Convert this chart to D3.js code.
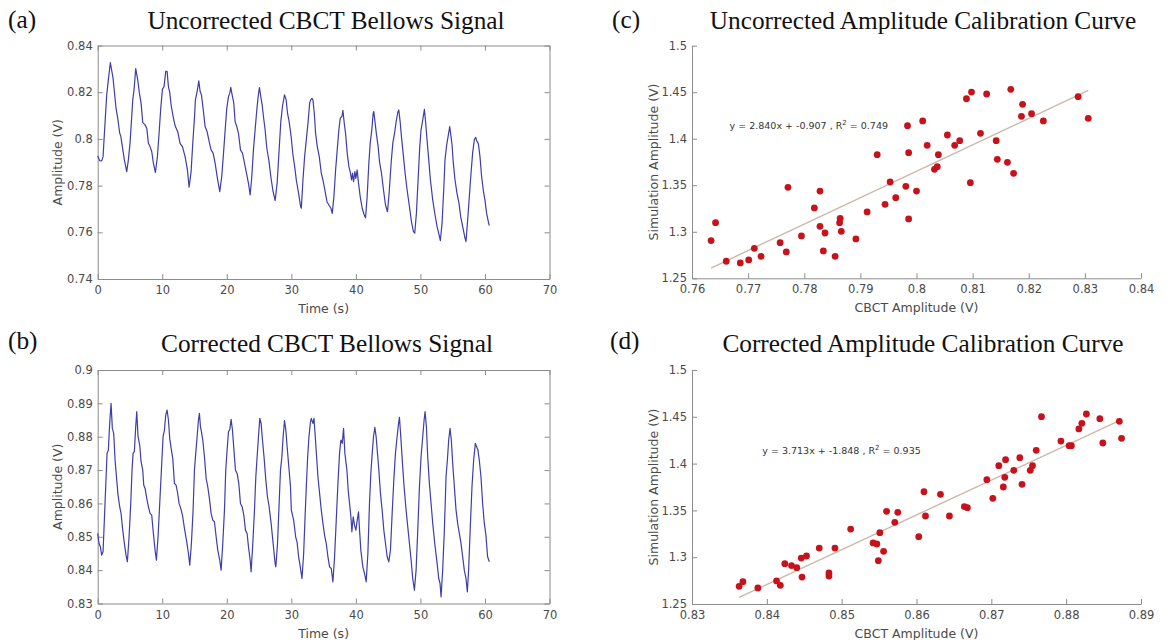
<!DOCTYPE html>
<html><head><meta charset="utf-8">
<script src="https://cdn.jsdelivr.net/npm/d3@7"></script>
<style>body{margin:0;background:#fff}svg{display:block}</style>
</head><body>
<svg id="chart" width="1167" height="640"></svg>
<script>
// ---------- DATA ----------
const timeA = [0,0.31,0.62,0.83,0.98,1.24,1.40,1.65,1.96,2.17,2.38,2.58,2.84,3.10,3.41,3.57,3.82,4.13,4.50,4.75,5.01,5.27,5.43,5.63,5.89,6.20,6.46,6.72,6.98,7.34,7.60,7.86,8.11,8.37,8.63,8.94,9.25,9.51,9.77,10.03,10.28,10.54,10.75,10.96,11.16,11.37,11.68,11.99,12.40,12.76,13.13,13.54,13.90,14.16,14.47,14.73,14.99,15.14,15.45,15.66,15.87,16.07,16.33,16.64,16.95,17.26,17.57,17.88,18.19,18.55,18.91,19.22,19.53,19.79,20.00,20.26,20.47,20.62,20.83,21.09,21.29,21.55,21.81,22.12,22.43,22.74,23.05,23.36,23.62,23.88,24.13,24.39,24.65,24.86,25.06,25.27,25.48,25.68,25.94,26.20,26.51,26.82,27.13,27.49,27.80,28.11,28.37,28.63,28.94,29.20,29.41,29.66,29.97,30.26,30.52,30.77,31.13,31.44,31.55,31.80,32.06,32.32,32.58,32.84,33.00,33.20,33.35,33.56,33.76,34.02,34.33,34.64,34.90,35.20,35.52,35.82,36.13,36.34,36.60,36.86,37.11,37.37,37.58,37.84,37.99,38.20,38.40,38.66,38.92,39.12,39.33,39.48,39.64,39.85,40.00,40.20,40.41,40.67,40.98,41.29,41.50,41.75,42.01,42.22,42.47,42.68,42.78,42.99,43.20,43.45,43.66,43.97,44.28,44.59,44.90,45.15,45.46,45.72,46.03,46.24,46.49,46.65,46.86,47.06,47.32,47.63,47.94,48.30,48.61,48.92,49.12,49.38,49.64,49.90,50.10,50.36,50.62,50.82,51.03,51.29,51.55,51.91,52.27,52.58,52.89,53.09,53.35,53.61,53.81,54.07,54.33,54.54,54.74,54.90,55.10,55.36,55.67,55.98,56.24,56.55,56.86,57.06,57.32,57.58,57.84,58.09,58.35,58.56,58.76,58.97,59.23,59.48,59.74,60.00,60.26,60.52,60.67];
const ampA = [0.7927,0.7907,0.7906,0.7924,0.7996,0.8117,0.8189,0.8253,0.8327,0.8293,0.8260,0.8203,0.8131,0.8089,0.8024,0.8013,0.7967,0.7910,0.7860,0.7910,0.7981,0.8096,0.8167,0.8210,0.8301,0.8253,0.8196,0.8153,0.8070,0.8060,0.8046,0.7981,0.7967,0.7946,0.7896,0.7856,0.7924,0.8024,0.8131,0.8213,0.8224,0.8289,0.8289,0.8224,0.8199,0.8146,0.8096,0.8056,0.8031,0.7981,0.7967,0.7924,0.7867,0.7793,0.7860,0.7981,0.8089,0.8167,0.8210,0.8249,0.8203,0.8189,0.8131,0.8053,0.8031,0.7989,0.7953,0.7939,0.7896,0.7831,0.7774,0.7839,0.7953,0.8053,0.8131,0.8181,0.8196,0.8221,0.8189,0.8153,0.8074,0.8053,0.8024,0.7953,0.7939,0.7896,0.7853,0.7810,0.7760,0.7839,0.7953,0.8039,0.8124,0.8181,0.8220,0.8181,0.8146,0.8096,0.8039,0.7960,0.7910,0.7839,0.7781,0.7736,0.7810,0.7953,0.8074,0.8139,0.8189,0.8167,0.8110,0.8074,0.8010,0.7930,0.7881,0.7824,0.7767,0.7710,0.7703,0.7824,0.7924,0.7996,0.8067,0.8153,0.8167,0.8174,0.8167,0.8110,0.8024,0.7967,0.7924,0.7853,0.7824,0.7781,0.7731,0.7717,0.7703,0.7681,0.7753,0.7867,0.7953,0.8039,0.8089,0.8096,0.8122,0.8067,0.8024,0.7939,0.7881,0.7860,0.7824,0.7853,0.7817,0.7860,0.7831,0.7867,0.7810,0.7753,0.7703,0.7674,0.7662,0.7753,0.7896,0.7981,0.8039,0.8110,0.8117,0.8067,0.8017,0.7967,0.7903,0.7853,0.7781,0.7717,0.7688,0.7767,0.7896,0.7981,0.8031,0.8074,0.8113,0.8124,0.8074,0.8010,0.7939,0.7853,0.7781,0.7710,0.7646,0.7603,0.7596,0.7681,0.7824,0.7967,0.8039,0.8081,0.8127,0.8067,0.7996,0.7910,0.7824,0.7738,0.7674,0.7624,0.7589,0.7564,0.7638,0.7781,0.7910,0.7974,0.8017,0.8053,0.8010,0.7974,0.7896,0.7824,0.7767,0.7724,0.7667,0.7624,0.7581,0.7560,0.7653,0.7753,0.7853,0.7939,0.7996,0.8007,0.7989,0.7981,0.7924,0.7839,0.7781,0.7738,0.7681,0.7646,0.7629];

const timeB = [0,0.21,0.41,0.62,0.83,1.03,1.24,1.45,1.65,1.86,2.07,2.27,2.48,2.69,2.95,3.15,3.41,3.62,3.88,4.13,4.39,4.60,4.86,5.12,5.32,5.48,5.68,5.89,6.05,6.25,6.51,6.72,6.98,7.13,7.34,7.60,7.86,8.11,8.37,8.63,8.89,9.10,9.35,9.61,9.87,10.13,10.34,10.54,10.75,10.96,11.16,11.42,11.63,11.89,12.14,12.35,12.61,12.87,13.13,13.44,13.75,14.06,14.26,14.52,14.78,14.99,15.19,15.40,15.61,15.76,15.92,16.07,16.28,16.54,16.80,17.05,17.31,17.57,17.83,18.09,18.35,18.60,18.91,19.12,19.38,19.64,19.84,20.05,20.26,20.47,20.67,20.88,21.09,21.34,21.60,21.86,22.12,22.38,22.64,22.89,23.15,23.36,23.62,23.77,24.03,24.29,24.50,24.70,24.91,25.12,25.32,25.53,25.79,26.05,26.30,26.56,26.87,27.18,27.49,27.60,27.86,28.11,28.32,28.53,28.73,28.94,29.15,29.35,29.61,29.87,30.00,30.36,30.67,30.88,31.13,31.39,31.65,31.91,32.11,32.32,32.53,32.73,32.94,33.09,33.35,33.51,33.71,33.92,34.12,34.38,34.64,34.90,35.15,35.41,35.67,35.93,36.19,36.44,36.70,36.96,37.22,37.47,37.68,37.89,38.09,38.30,38.61,38.81,39.02,39.23,39.38,39.59,39.79,40.00,40.21,40.41,40.57,40.77,41.08,41.34,41.60,41.86,42.11,42.32,42.53,42.73,42.94,43.14,43.35,43.56,43.81,44.07,44.33,44.59,44.85,45.10,45.36,45.62,45.88,46.13,46.34,46.55,46.75,46.96,47.22,47.47,47.78,48.04,48.30,48.56,48.81,49.07,49.33,49.59,49.85,50.10,50.36,50.57,50.72,50.93,51.13,51.39,51.65,51.91,52.22,52.53,52.84,53.04,53.20,53.45,53.71,53.97,54.18,54.38,54.59,54.79,55.00,55.26,55.52,55.77,56.03,56.29,56.55,56.80,57.06,57.27,57.47,57.73,57.99,58.25,58.51,58.71,58.92,59.12,59.38,59.64,59.90,60.15,60.41,60.67];
const ampB = [0.851,0.848,0.847,0.8445,0.8455,0.855,0.865,0.875,0.876,0.884,0.890,0.8825,0.881,0.873,0.867,0.8625,0.859,0.857,0.852,0.848,0.8445,0.8425,0.850,0.860,0.870,0.875,0.8755,0.883,0.8875,0.880,0.8775,0.8725,0.870,0.8655,0.8645,0.8615,0.859,0.857,0.8565,0.851,0.846,0.843,0.850,0.860,0.870,0.880,0.882,0.8865,0.888,0.885,0.8795,0.876,0.8735,0.866,0.8655,0.8635,0.860,0.8585,0.8565,0.8525,0.849,0.845,0.8415,0.848,0.858,0.870,0.875,0.880,0.885,0.887,0.883,0.8815,0.879,0.874,0.8675,0.865,0.8615,0.857,0.855,0.8545,0.850,0.846,0.843,0.840,0.848,0.858,0.870,0.876,0.8815,0.8822,0.8852,0.882,0.8765,0.870,0.869,0.866,0.860,0.859,0.8565,0.852,0.851,0.847,0.843,0.8395,0.848,0.858,0.868,0.874,0.880,0.8855,0.884,0.879,0.8735,0.867,0.862,0.859,0.854,0.848,0.842,0.841,0.848,0.860,0.870,0.8738,0.880,0.8848,0.882,0.877,0.871,0.865,0.858,0.855,0.850,0.8485,0.844,0.841,0.8375,0.845,0.855,0.865,0.874,0.880,0.884,0.8855,0.884,0.8855,0.880,0.874,0.868,0.863,0.858,0.854,0.8505,0.848,0.844,0.841,0.8405,0.8365,0.844,0.855,0.866,0.875,0.879,0.878,0.8825,0.875,0.870,0.864,0.860,0.856,0.8515,0.856,0.8535,0.852,0.855,0.8575,0.852,0.846,0.841,0.839,0.8365,0.845,0.860,0.869,0.875,0.880,0.8828,0.880,0.875,0.870,0.863,0.858,0.852,0.848,0.844,0.8425,0.846,0.857,0.867,0.875,0.879,0.883,0.8858,0.880,0.872,0.865,0.858,0.853,0.848,0.843,0.8375,0.834,0.840,0.852,0.865,0.874,0.880,0.885,0.8875,0.883,0.874,0.866,0.860,0.854,0.848,0.843,0.8375,0.836,0.832,0.840,0.852,0.868,0.873,0.879,0.8825,0.879,0.872,0.865,0.858,0.854,0.851,0.848,0.844,0.840,0.8375,0.8335,0.840,0.853,0.865,0.873,0.878,0.877,0.876,0.873,0.868,0.860,0.854,0.8505,0.844,0.8425];

const cbctC = [0.7634,0.7642,0.7661,0.7686,0.7701,0.7711,0.7723,0.7757,0.7768,0.7771,0.7795,0.7818,0.7828,0.7828,0.7834,0.7837,0.7855,0.7864,0.7863,0.7866,0.7892,0.7912,0.7930,0.7944,0.7953,0.7963,0.7981,0.7984,0.7986,0.7986,0.8000,0.8011,0.8019,0.8032,0.8037,0.8039,0.8055,0.8068,0.8077,0.8089,0.8098,0.8096,0.8114,0.8125,0.8142,0.8144,0.8162,0.8168,0.8173,0.8187,0.8189,0.8205,0.8226,0.8288,0.8306];
const simC = [1.2905,1.3098,1.2683,1.2665,1.2697,1.2822,1.2736,1.2883,1.2783,1.3478,1.2955,1.3256,1.3438,1.3059,1.2794,1.2987,1.2736,1.3145,1.3098,1.3005,1.2923,1.3213,1.3829,1.3295,1.3535,1.3367,1.3489,1.4140,1.3850,1.3138,1.3438,1.4191,1.3929,1.3671,1.3700,1.3829,1.4040,1.3929,1.3979,1.4430,1.4502,1.3528,1.4058,1.4481,1.3979,1.3779,1.3746,1.4531,1.3628,1.4241,1.4370,1.4269,1.4191,1.4452,1.4219];

const cbctD = [0.8363,0.8368,0.8388,0.8413,0.8418,0.8424,0.8433,0.8440,0.8446,0.8453,0.8447,0.8470,0.8483,0.8483,0.8491,0.8512,0.8542,0.8547,0.8549,0.8551,0.8556,0.8560,0.8571,0.8575,0.8603,0.8610,0.8612,0.8632,0.8644,0.8664,0.8668,0.8694,0.8702,0.8710,0.8716,0.8718,0.8719,0.8730,0.8738,0.8741,0.8752,0.8755,0.8760,0.8767,0.8793,0.8804,0.8807,0.8817,0.8821,0.8827,0.8845,0.8849,0.8871,0.8874];
const simD = [1.2689,1.2739,1.2671,1.2746,1.2699,1.2931,1.2910,1.2888,1.2991,1.3013,1.2788,1.3098,1.2831,1.2799,1.3098,1.3301,1.3152,1.3141,1.2963,1.3262,1.3063,1.3490,1.3373,1.3479,1.3219,1.3700,1.3440,1.3672,1.3440,1.3540,1.3529,1.3828,1.3629,1.3978,1.3750,1.3853,1.4042,1.3928,1.4063,1.3779,1.3928,1.3978,1.4142,1.4501,1.4241,1.4192,1.4192,1.4370,1.4430,1.4530,1.4480,1.4220,1.4452,1.4270];

const fitSlope = [2.840, 3.713];
const fitIntercept = [-0.907, -1.848];
const fitR2 = [0.749, 0.935];

const timeTicks = [0,10,20,30,40,50,60,70];
const timeTickLabels = ["0","10","20","30","40","50","60","70"];
const ampTicksA = [0.74,0.76,0.78,0.80,0.82,0.84];
const ampTickLabelsA = ["0.74","0.76","0.78","0.8","0.82","0.84"];
const ampTicksB = [0.83,0.84,0.85,0.86,0.87,0.88,0.89,0.90];
const ampTickLabelsB = ["0.83","0.84","0.85","0.86","0.87","0.88","0.89","0.9"];
const simTicks = [1.25,1.30,1.35,1.40,1.45,1.50];
const simTickLabels = ["1.25","1.3","1.35","1.4","1.45","1.5"];
const cbctTicksC = [0.76,0.77,0.78,0.79,0.80,0.81,0.82,0.83,0.84];
const cbctTickLabelsC = ["0.76","0.77","0.78","0.79","0.8","0.81","0.82","0.83","0.84"];
const cbctTicksD = [0.83,0.84,0.85,0.86,0.87,0.88,0.89];
const cbctTickLabelsD = ["0.83","0.84","0.85","0.86","0.87","0.88","0.89"];

const panelLetters = ["(a)","(b)","(c)","(d)"];
const panelTitles = ["Uncorrected CBCT Bellows Signal","Corrected CBCT Bellows Signal","Uncorrected Amplitude Calibration Curve","Corrected Amplitude Calibration Curve"];

// ---------- DRAW ----------
const svg = d3.select("#chart");
svg.append("rect").attr("width",1167).attr("height",640).attr("fill","#fff");

const AX = "#8c8c8c", TXT = "#4a4a4a", SANS = "DejaVu Sans, sans-serif", SERIF = "Liberation Serif, Times New Roman, serif";

function styleAxis(g){
  g.attr("font-family", SANS).attr("font-size", 11.5);
  g.selectAll("path.domain").attr("stroke", AX).attr("stroke-width",1);
  g.selectAll(".tick line").attr("stroke", AX);
  g.selectAll(".tick text").attr("fill", TXT);
}

function drawAxes(x, y, xt, xl, yt, yl, box, xlabel, ylabel, ylabX){
  const [x0,x1] = x.range(), [yb,yt0] = y.range();
  const xa = d3.axisBottom(x).tickValues(xt).tickFormat(d=>xl[xt.indexOf(d)]).tickSizeInner(-5).tickSizeOuter(0).tickPadding(7);
  const ya = d3.axisLeft(y).tickValues(yt).tickFormat(d=>yl[yt.indexOf(d)]).tickSizeInner(-5).tickSizeOuter(0).tickPadding(5);
  svg.append("g").attr("transform",`translate(0,${yb})`).call(xa).call(styleAxis);
  svg.append("g").attr("transform",`translate(${x0},0)`).call(ya).call(styleAxis);
  if(box){
    svg.append("g").attr("transform",`translate(0,${yt0})`).call(d3.axisTop(x).tickValues(xt).tickFormat("").tickSizeInner(-5).tickSizeOuter(0)).call(styleAxis);
    svg.append("g").attr("transform",`translate(${x1},0)`).call(d3.axisRight(y).tickValues(yt).tickFormat("").tickSizeInner(-5).tickSizeOuter(0)).call(styleAxis);
  }
  svg.append("text").attr("x",(x0+x1)/2).attr("y",yb+34).attr("text-anchor","middle")
    .attr("font-family",SANS).attr("font-size",12.5).attr("fill",TXT).text(xlabel);
  svg.append("text").attr("transform",`translate(${ylabX},${(yb+yt0)/2}) rotate(-90)`).attr("text-anchor","middle")
    .attr("font-family",SANS).attr("font-size",12.5).attr("fill",TXT).text(ylabel);
}

function heading(i, lx, ly, cx, ty){
  svg.append("text").attr("x",lx).attr("y",ly).attr("font-family",SERIF).attr("font-size",25.3).attr("fill","#111").text(panelLetters[i]);
  svg.append("text").attr("x",cx).attr("y",ty).attr("text-anchor","middle").attr("font-family",SERIF).attr("font-size",25.3).attr("fill","#111").text(panelTitles[i]);
}

// (a)
{
  const x = d3.scaleLinear().domain([0,70]).range([97.7,549.5]);
  const y = d3.scaleLinear().domain([0.74,0.84]).range([279,45.5]);
  drawAxes(x,y,timeTicks,timeTickLabels,ampTicksA,ampTickLabelsA,true,"Time (s)","Amplitude (V)",62);
  const line = d3.line().x((d,i)=>x(timeA[i])).y((d,i)=>y(ampA[i]));
  svg.append("path").datum(ampA).attr("d",line).attr("fill","none").attr("stroke","#3d3dab").attr("stroke-width",1.2).attr("stroke-linejoin","round");
  heading(0, 8, 28, 326, 29);
}
// (b)
{
  const x = d3.scaleLinear().domain([0,70]).range([97.7,549.5]);
  const y = d3.scaleLinear().domain([0.83,0.90]).range([603.5,370]);
  drawAxes(x,y,timeTicks,timeTickLabels,ampTicksB,ampTickLabelsB,true,"Time (s)","Amplitude (V)",62);
  const line = d3.line().x((d,i)=>x(timeB[i])).y((d,i)=>y(ampB[i]));
  svg.append("path").datum(ampB).attr("d",line).attr("fill","none").attr("stroke","#3d3dab").attr("stroke-width",1.2).attr("stroke-linejoin","round");
  heading(1, 8, 349, 327, 352);
}

function scatterPanel(idx, fi, xs, ys, xDom, yTop, yBot, xt, xl, eqX, eqY){
  const x = d3.scaleLinear().domain(xDom).range([692,1141]);
  const y = d3.scaleLinear().domain([1.25,1.5]).range([yBot,yTop]);
  drawAxes(x,y,xt,xl,simTicks,simTickLabels,false,"CBCT Amplitude (V)","Simulation Amplitude (V)",658);
  const ext = d3.extent(xs);
  const fit = ext.map(v=>[v, fitSlope[fi]*v+fitIntercept[fi]]);
  svg.append("path").datum(fit).attr("d",d3.line().x(d=>x(d[0])).y(d=>y(d[1])))
    .attr("stroke","#cdb7a8").attr("stroke-width",1.4).attr("fill","none");
  svg.append("g").selectAll("circle").data(xs).join("circle")
    .attr("cx",d=>x(d)).attr("cy",(d,i)=>y(ys[i])).attr("r",3.4).attr("fill","#c8121b");
  const t = svg.append("text").attr("x",x(eqX)).attr("y",y(eqY)).attr("font-family",SANS).attr("font-size",9.5).attr("fill","#333");
  t.append("tspan").text(`y = ${fitSlope[fi].toFixed(3)}x + ${fitIntercept[fi].toFixed(3)} , R`);
  t.append("tspan").attr("dy",-4).attr("font-size",7).text("2");
  t.append("tspan").attr("dy",4).text(` = ${fitR2[fi].toFixed(3)}`);
}
// (c)
scatterPanel(2, 0, cbctC, simC, [0.76,0.84], 45.7, 278.3, cbctTicksC, cbctTickLabelsC, 0.7667, 1.4105);
heading(2, 612, 28, 923, 29);
// (d)
scatterPanel(3, 1, cbctD, simD, [0.83,0.89], 370, 604, cbctTicksD, cbctTickLabelsD, 0.8394, 1.4105);
heading(3, 610, 349, 923, 352);
</script>
</body></html>
